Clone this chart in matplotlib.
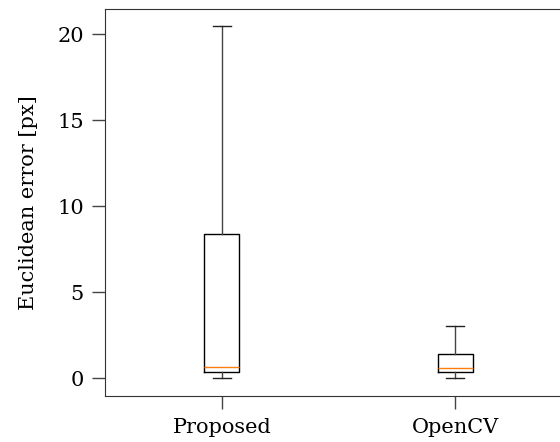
import matplotlib
matplotlib.use("Agg")
import matplotlib.pyplot as plt

# box statistics (px)
methods = ["Proposed", "OpenCV"]
whislo = [0.0, 0.0]
q1 = [0.38, 0.38]
med = [0.67, 0.58]
q3 = [8.41, 1.45]
whishi = [20.5, 3.06]

plt.rcParams["font.family"] = "DejaVu Serif"
plt.rcParams["font.size"] = 15

stats = []
for i, name in enumerate(methods):
	stats.append({
		"label": name,
		"whislo": whislo[i],
		"q1": q1[i],
		"med": med[i],
		"q3": q3[i],
		"whishi": whishi[i],
		"fliers": [],
	})

fig = plt.figure(figsize=(5.6, 4.42), dpi=100)
ax = fig.add_axes([0.188, 0.104, 0.833, 0.876])
ax.bxp(stats, showfliers=False,
	whiskerprops=dict(color="#444444"),
	capprops=dict(color="#222222"),
	medianprops=dict(color="#ff7f0e"))
ax.set_xlim(0.5, 2.5)
ax.set_ylim(-1.02, 21.47)
ax.set_yticks([0, 5, 10, 15, 20])
ax.tick_params(direction="out", length=9.5, width=1, color="#444444", pad=6)
for s in ax.spines.values():
	s.set_color("#333333")
ax.set_ylabel("Euclidean error [px]", labelpad=14)

fig.savefig("out.png", dpi=100)
